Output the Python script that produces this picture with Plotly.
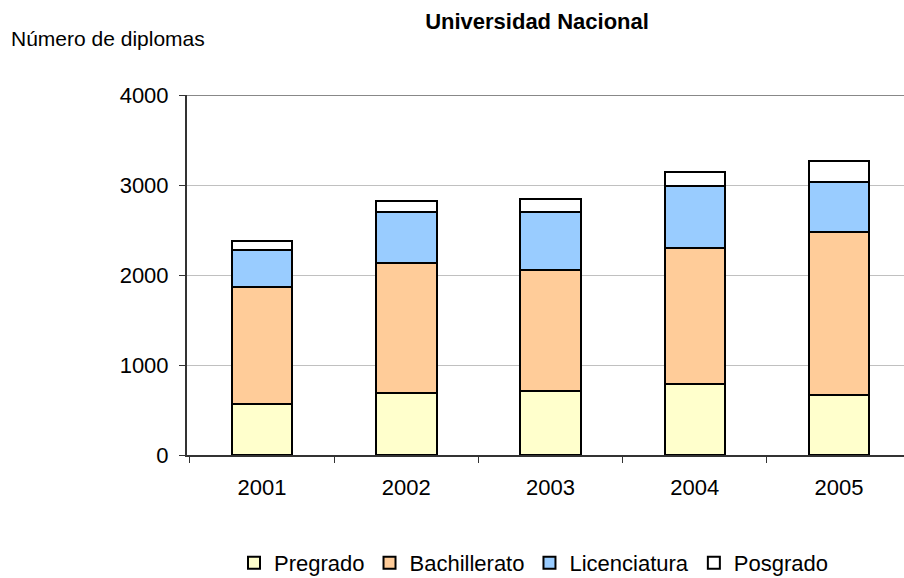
import plotly.graph_objects as go

years = ["2001", "2002", "2003", "2004", "2005"]
pregrado = [567, 685, 711, 785, 663]
bachillerato = [1296, 1452, 1345, 1519, 1811]
licenciatura = [415, 559, 640, 689, 563]
posgrado = [103, 130, 152, 151, 230]

series = [
    ("Pregrado", pregrado, "#FFFFCC"),
    ("Bachillerato", bachillerato, "#FFCC99"),
    ("Licenciatura", licenciatura, "#99CCFF"),
    ("Posgrado", posgrado, "#FFFFFF"),
]

fig = go.Figure()
for name, vals, col in series:
    fig.add_trace(go.Bar(
        x=years, y=vals, name=name,
        marker=dict(color=col, line=dict(color="black", width=2)),
        width=0.42,
    ))

fig.update_layout(
    barmode="stack",
    width=904, height=578,
    margin=dict(l=187, r=0, t=95, b=123, autoexpand=False),
    paper_bgcolor="white", plot_bgcolor="white",
    font=dict(family="Liberation Sans, Arial, sans-serif", color="black", size=22),
    title=dict(text="<b>Universidad Nacional</b>", x=537/904, xanchor="center",
               y=1 - 21/578, yanchor="middle", font=dict(size=22)),
    showlegend=True,
    legend=dict(orientation="h", x=(534 - 187) / 717, xanchor="center",
                y=(455 - 563) / 360, yanchor="middle",
                font=dict(size=22), traceorder="normal", itemwidth=30,
                bgcolor="rgba(0,0,0,0)"),
)
fig.update_xaxes(
    type="category", range=[-0.52, 4.45],
    showgrid=False, showline=True, linecolor="#333333", linewidth=2,
    ticks="outside", tickson="boundaries", ticklen=6, tickcolor="#333333", tickwidth=1,
    tickfont=dict(size=22), zeroline=False, ticklabelstandoff=12,
)
fig.update_yaxes(
    range=[0, 4000], tickvals=[0, 1000, 2000, 3000, 4000],
    showgrid=True, gridcolor="#C0C0C0", gridwidth=1,
    showline=True, linecolor="#333333", linewidth=2,
    ticks="outside", ticklen=6, tickcolor="#333333",
    tickfont=dict(size=22), zeroline=False, ticklabelstandoff=6,
)
fig.add_shape(type="line", xref="paper", yref="y", x0=0, x1=1, y0=4000, y1=4000,
              line=dict(color="#888888", width=2))
fig.add_annotation(text="Número de diplomas", xref="paper", yref="paper",
                   x=(9 - 187) / 717, y=1 + (95 - 38) / 360, xanchor="left", yanchor="middle",
                   showarrow=False, font=dict(size=21))

fig.write_html("out.html", config={"displayModeBar": False},
               post_script="document.body.style.margin='0';")
